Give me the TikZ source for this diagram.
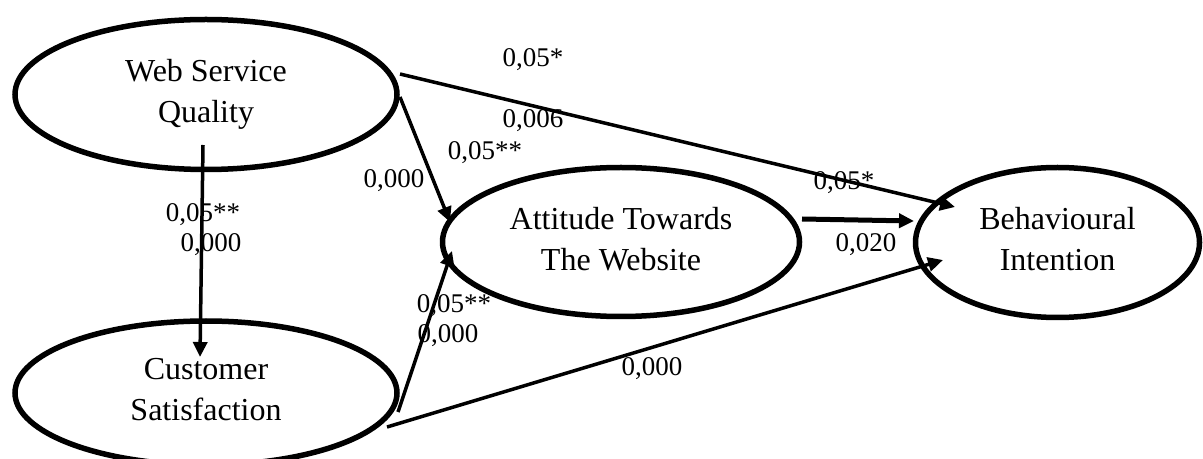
\documentclass[tikz,border=0pt]{standalone}
\usepackage{fontspec}
\setmainfont{Liberation Serif}
\usetikzlibrary{shapes.geometric,arrows.meta}

\tikzset{
  latent/.style={ellipse,draw,line width=2.75pt,inner sep=0pt,align=center,
    font=\fontsize{16}{20.5}\selectfont},
  link/.style={-{Triangle[length=7.5pt,width=7pt]},line width=1.75pt},
  coef/.style={font=\fontsize{13.5}{16}\selectfont,anchor=base,inner sep=0pt}
}

\begin{document}
\begin{tikzpicture}[x=0.5pt,y=-0.5pt]
  \useasboundingbox (0,0) rectangle (1203,459);
  % constructs
  \node[latent,minimum width=191pt,minimum height=75pt] (wsq) at (206,94.5) {Web Service\\Quality\vphantom{y}};
  \node[latent,minimum width=191pt,minimum height=72pt] (cs) at (206,393) {Customer\\Satisfaction\vphantom{y}};
  \node[latent,minimum width=178.5pt,minimum height=74.5pt] (atw) at (621,242) {Attitude Towards\\The Website\vphantom{y}};
  \node[latent,minimum width=142pt,minimum height=75pt] (bi) at (1057.5,242.5) {Behavioural\\Intention\vphantom{y}};
  % paths
  \draw[link] ([shift={(-3,50.5)}]wsq.center) -- ([shift={(-6,-36)}]cs.center);
  \draw[link] ([shift={(194,2.5)}]wsq.center) -- ([shift={(-171,-20)}]atw.center);
  \draw[link] ([shift={(192,19)}]cs.center) -- ([shift={(-169,9)}]atw.center);
  \draw[link] ([shift={(194,-20.5)}]wsq.center) -- ([shift={(-102.5,-35.5)}]bi.center);
  \draw[link,line width=2.5pt] ([shift={(181,-23)}]atw.center) -- ([shift={(-143.5,-21.5)}]bi.center);
  \draw[link] ([shift={(181,34)}]cs.center) -- ([shift={(-114.5,17.5)}]bi.center);
  % coefficients (baseline positions)
  \foreach \x/\y/\t/\n in {533/67/{0,05*}/wbsig, 533/128/{0,006}/wbp,
      485/160/{0,05**}/wasig, 394/188/{0,000}/wap,
      203/222/{0,05**}/wcsig, 211/252/{0,000}/wcp,
      454/313/{0,05**}/casig, 448/343/{0,000}/cap0,
      652/375/{0,000}/cbp, 844/190/{0,05*}/absig, 866/252/{0,020}/abp}{
    \node[coef] (\n) at (\x,\y) {\t};
  }
\end{tikzpicture}
\end{document}
